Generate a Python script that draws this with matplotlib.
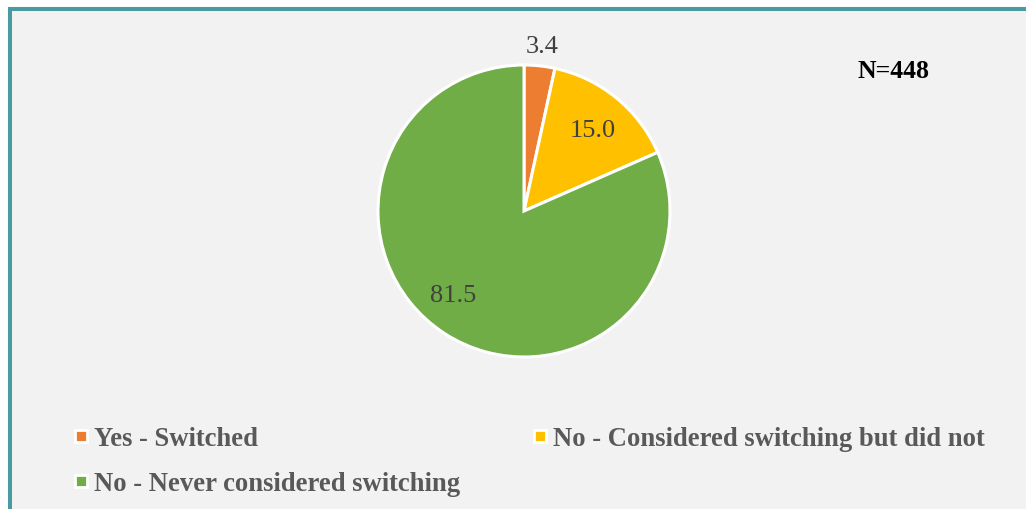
import numpy as np
import matplotlib.pyplot as plt
from matplotlib.patches import Rectangle
from matplotlib.lines import Line2D

# Survey responses (percent of respondents)
categories = ['Yes - Switched', 'No - Considered switching but did not',
              'No - Never considered switching']
shares = [3.4, 15.0, 81.5]
colors = ['#ED7D31', '#FFC000', '#70AD47']
sample_note = 'N=448'

plt.rcParams['font.family'] = ['Liberation Serif', 'DejaVu Serif']

W, H = 1026, 510
fig = plt.figure(figsize=(W / 100, H / 100), dpi=100, facecolor='white')

# chart area panel with teal border (open to the right and bottom)
fig.patches.append(Rectangle((10 / W, -0.1), 1.2, (H - 10) / H + 0.1,
                             transform=fig.transFigure, facecolor='#F2F2F2',
                             edgecolor='#4A9BA0', linewidth=2.9, zorder=-10))

# pie: centre (524, 212) px, radius 146 px
cx, cy, r = 524, H - 212, 146
ax = fig.add_axes([(cx - r) / W, (cy - r) / H, 2 * r / W, 2 * r / H])
ax.set_facecolor('none')
wedges, _ = ax.pie(shares, colors=colors, startangle=90, counterclock=False,
                   wedgeprops=dict(edgecolor='white', linewidth=2.2))
ax.set_xlim(-1, 1)
ax.set_ylim(-1, 1)
ax.set_aspect('equal')

# value labels: radius and angle nudge per slice
label_r = [1.14, 0.73, 0.75]
label_nudge = [0, -1, -7]
for w, v, lr, dn in zip(wedges, shares, label_r, label_nudge):
    a = np.deg2rad((w.theta1 + w.theta2) / 2 + dn)
    ax.text(lr * np.cos(a), lr * np.sin(a), f'{v:.1f}', ha='center',
            va='center', fontsize=19, color='#404040')

fig.text(858 / W, 1 - 72 / H, sample_note, fontsize=18.5, fontweight='bold',
         color='black', va='center', ha='left')

handles = [Line2D([], [], linestyle='none', marker='s', markersize=9,
                  markerfacecolor=c, markeredgecolor='white', markeredgewidth=2)
           for c in colors]
order = [0, 2, 1]
leg = fig.legend([handles[i] for i in order], [categories[i] for i in order],
                 ncol=2, loc='upper left', bbox_to_anchor=(50 / W, 1 - 403 / H),
                 frameon=False, handlelength=0.5, handletextpad=0.25,
                 columnspacing=2.73, labelspacing=0.75,
                 prop=dict(size=19.2, weight='bold'))
for t in leg.get_texts():
    t.set_color('#595959')

fig.savefig('out.png', dpi=100, facecolor=fig.get_facecolor())
